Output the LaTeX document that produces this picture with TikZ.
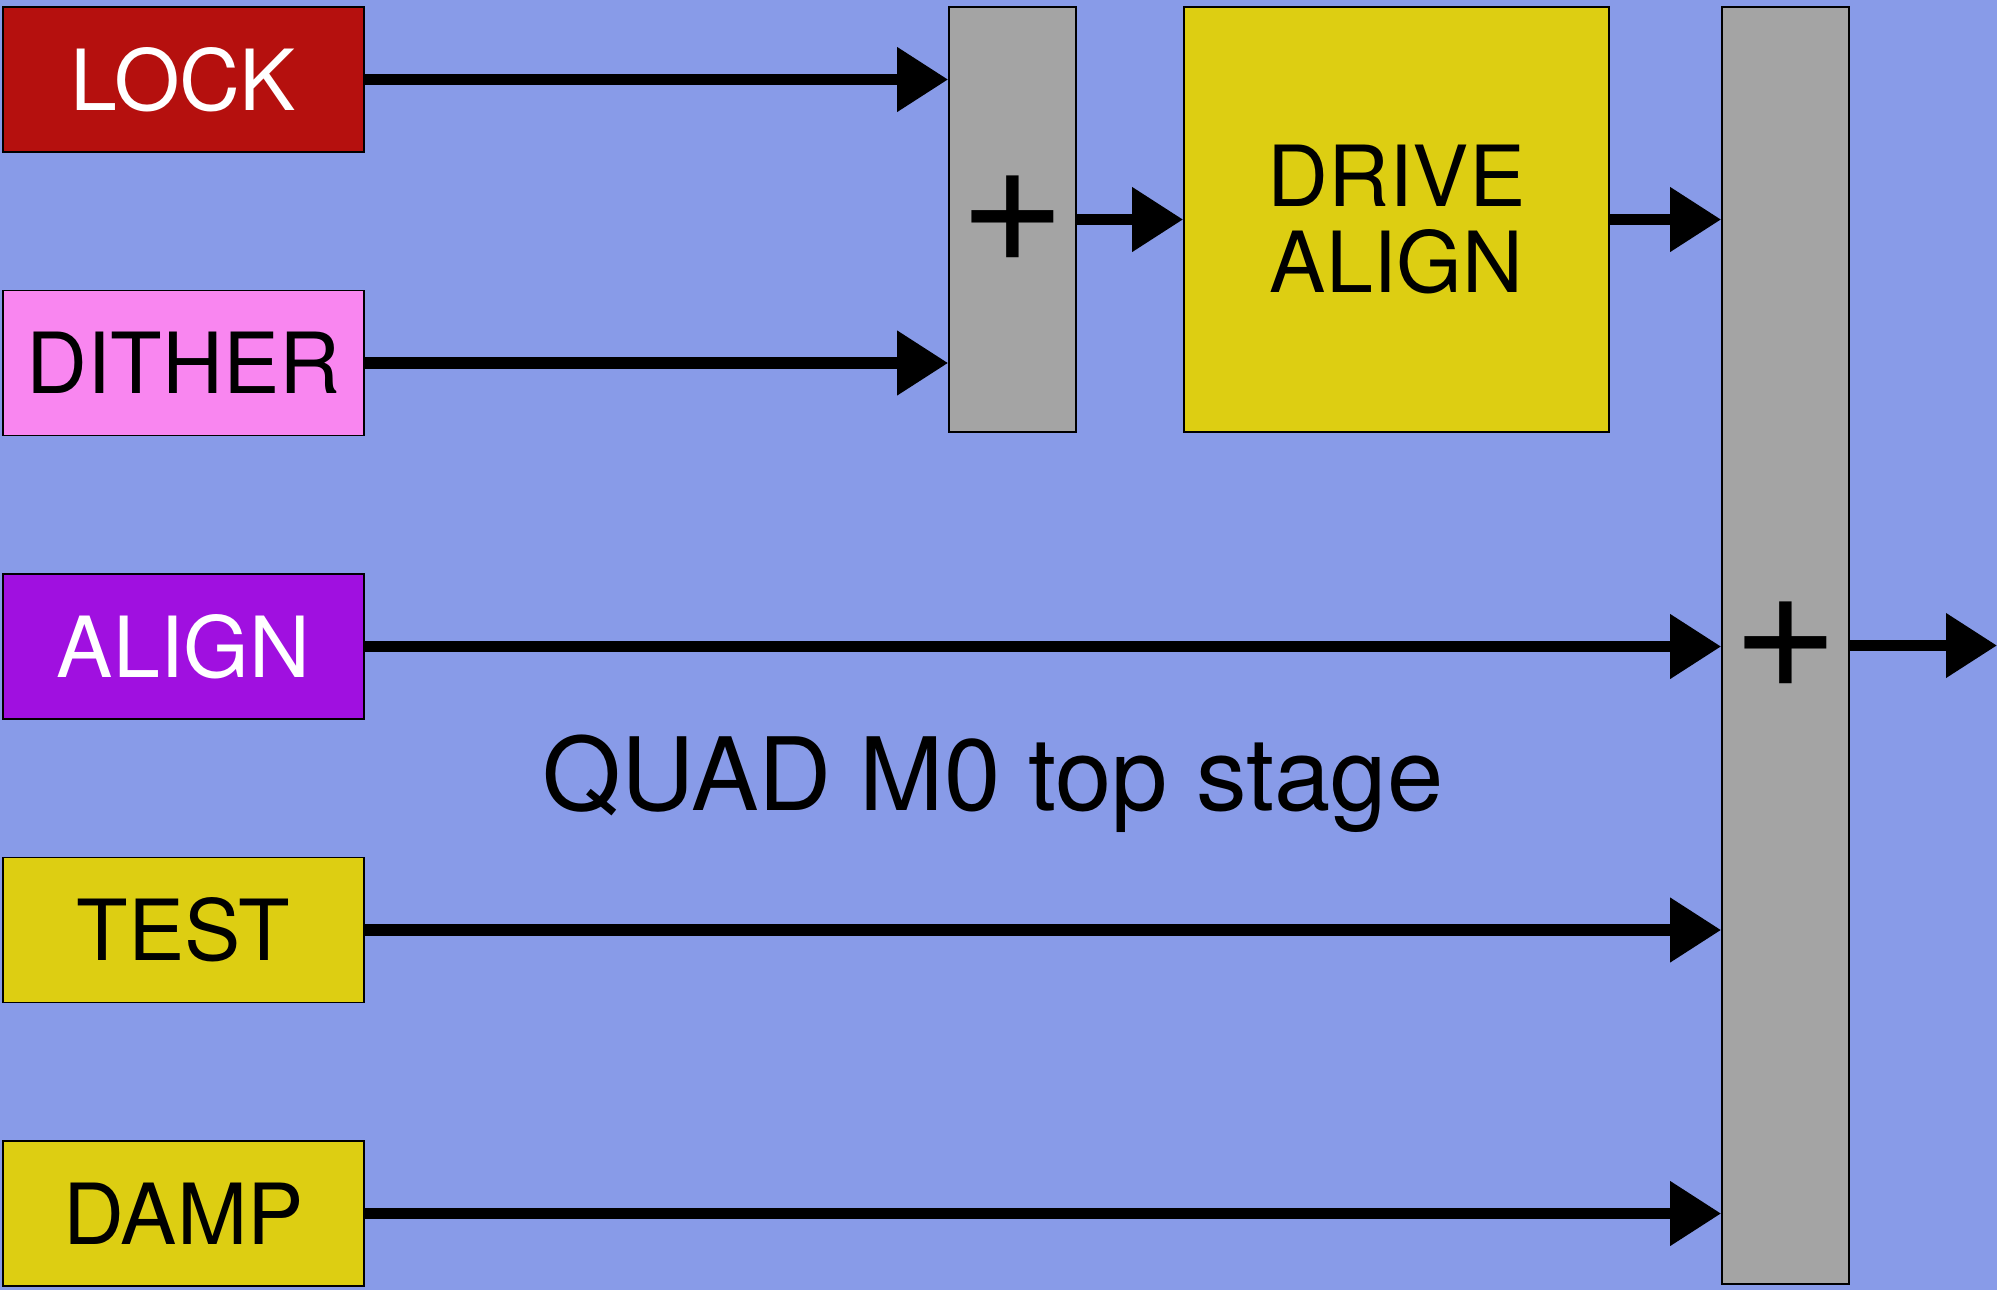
\documentclass[tikz,border=0pt]{standalone}
\usepackage{fontspec}
\setmainfont{TeX Gyre Heros}
\usetikzlibrary{arrows.meta,positioning,calc}
\definecolor{bgblue}{RGB}{136,155,232}
\definecolor{lockred}{RGB}{181,16,14}
\definecolor{ditherpink}{RGB}{249,134,240}
\definecolor{alignpurple}{RGB}{160,16,224}
\definecolor{boxyellow}{RGB}{221,206,18}
\definecolor{sumgray}{RGB}{164,164,164}

\begin{document}
\begin{tikzpicture}[
  font=\fontsize{24}{24}\selectfont,
  box/.style={draw, line width=0.5pt, inner sep=0pt, minimum width=3.61cm, minimum height=1.45cm},
  sumbox/.style={draw, line width=0.5pt, fill=sumgray, inner sep=0pt, minimum width=1.27cm,
    font=\fontsize{52}{52}\selectfont},
  arrow/.style={-{Triangle[length=14.5pt,width=17.6pt]}, line width=3.2pt}
]

\fill[bgblue] (0,0) rectangle (19.97,-12.90);
\useasboundingbox (0,0) rectangle (19.97,-12.90);

\node[box, fill=lockred, text=white] (lock) at (1.835,-0.795) {LOCK};
\node[box, fill=ditherpink] (dither) at (1.835,-3.63) {DITHER};
\node[box, fill=alignpurple, text=white] (align) at (1.835,-6.465) {ALIGN};
\node[box, fill=boxyellow] (test) at (1.835,-9.30) {TEST};
\node[box, fill=boxyellow] (damp) at (1.835,-12.135) {DAMP};

\node[sumbox, minimum height=4.25cm] (sumA) at (10.125,-2.195) {+};
\node[box, fill=boxyellow, minimum width=4.25cm, minimum height=4.25cm, align=center,
  font=\fontsize{24}{24.5}\selectfont] (drivealign) at (13.965,-2.195) {DRIVE\\ALIGN};
\node[sumbox, minimum height=12.77cm] (sumB) at (17.855,-6.455) {+};

\node[anchor=base, font=\fontsize{28.8}{28.8}\selectfont] (title) at (9.93,-8.10) {QUAD M0 top stage};

\coordinate (out) at (19.97,-6.455);

\draw[arrow] (lock.east) -- (lock.east -| sumA.west);
\draw[arrow] (dither.east) -- (dither.east -| sumA.west);
\draw[arrow] (sumA) -- (drivealign);
\draw[arrow] (drivealign) -- (drivealign -| sumB.west);
\draw[arrow] (align.east) -- (align.east -| sumB.west);
\draw[arrow] (test.east) -- (test.east -| sumB.west);
\draw[arrow] (damp.east) -- (damp.east -| sumB.west);
\draw[arrow] (sumB.east) -- (out);

\end{tikzpicture}
\end{document}
